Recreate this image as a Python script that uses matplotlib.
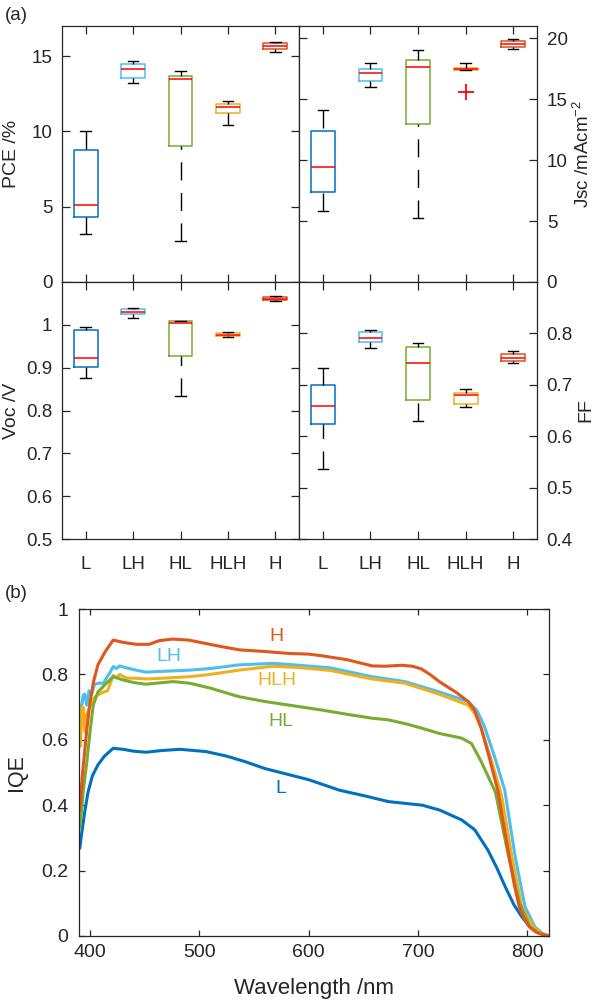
import matplotlib
matplotlib.use("Agg")
import matplotlib.pyplot as plt

plt.rcParams['font.family'] = ['Liberation Sans', 'DejaVu Sans']
plt.rcParams['mathtext.default'] = 'regular'

# ---------------- data ----------------
categories = ["L", "LH", "HL", "HLH", "H"]
box_colors = ["#0072BD", "#4DBEEE", "#77AC30", "#EDB120", "#D95319"]

# five-number summaries: [whisker low, q1, median, q3, whisker high]
pce_stats = [
    [3.2, 4.3, 5.1, 8.75, 10.05],
    [13.2, 13.55, 14.15, 14.5, 14.7],
    [2.75, 9.05, 13.5, 13.65, 14.0],
    [10.45, 11.25, 11.6, 11.85, 12.0],
    [15.3, 15.45, 15.65, 15.85, 15.95],
]
jsc_stats = [
    [5.8, 7.4, 9.4, 12.4, 14.1],
    [16.0, 16.5, 17.15, 17.5, 18.0],
    [5.25, 12.95, 17.65, 18.2, 19.0],
    [17.35, 17.35, 17.45, 17.55, 17.95],
    [19.15, 19.3, 19.55, 19.75, 19.9],
]
jsc_fliers = [[], [], [], [15.55], []]
voc_stats = [
    [0.875, 0.902, 0.923, 0.988, 0.996],
    [1.016, 1.026, 1.031, 1.036, 1.039],
    [0.834, 0.927, 1.005, 1.009, 1.010],
    [0.971, 0.974, 0.977, 0.981, 0.984],
    [1.055, 1.057, 1.060, 1.064, 1.067],
]
ff_stats = [
    [0.537, 0.623, 0.658, 0.700, 0.733],
    [0.772, 0.784, 0.792, 0.802, 0.807],
    [0.629, 0.671, 0.743, 0.773, 0.782],
    [0.657, 0.663, 0.680, 0.684, 0.691],
    [0.742, 0.746, 0.753, 0.759, 0.766],
]

# IQE spectra
L_wl = [390.5, 392, 395, 398, 402, 407, 413, 421, 430, 440, 451, 465, 482, 506, 525, 542, 560, 580,
        600, 628, 652, 673, 690, 704, 720, 740, 752, 764, 772, 780, 788, 795, 802, 808, 814, 820]
L_iqe = [0.27, 0.31, 0.38, 0.44, 0.49, 0.523, 0.55, 0.574, 0.571, 0.565, 0.562, 0.567, 0.571, 0.564,
         0.55, 0.533, 0.512, 0.495, 0.478, 0.446, 0.428, 0.411, 0.405, 0.40, 0.385, 0.355, 0.325,
         0.263, 0.21, 0.15, 0.095, 0.059, 0.03, 0.015, 0.006, 0.0]

LH_wl = [391, 392.5, 393.5, 395, 396.8, 399, 401, 404, 409, 412, 415, 418, 421, 424, 427, 433, 442,
         451, 470, 491, 510, 536, 567, 591, 620, 658, 688, 719, 746, 754, 761, 770, 779.5, 789, 798,
         807, 814, 820]
LH_iqe = [0.70, 0.71, 0.736, 0.74, 0.706, 0.75, 0.736, 0.77, 0.774, 0.772, 0.79, 0.805, 0.824, 0.818,
          0.826, 0.82, 0.813, 0.807, 0.81, 0.813, 0.818, 0.829, 0.834, 0.828, 0.82, 0.793, 0.778,
          0.747, 0.717, 0.69, 0.64, 0.55, 0.446, 0.243, 0.09, 0.028, 0.008, 0.0]

HLH_wl = [390.5, 391, 392, 393.5, 395, 397, 400, 404, 407, 412, 416, 421, 424, 427, 433, 442, 451,
          470, 491, 510, 536, 567, 591, 620, 658, 688, 719, 746, 752, 758, 767, 776.5, 786, 795,
          805.5, 813, 820]
HLH_iqe = [0.70, 0.58, 0.66, 0.70, 0.625, 0.68, 0.706, 0.73, 0.737, 0.746, 0.75, 0.797, 0.79, 0.80,
           0.789, 0.788, 0.786, 0.789, 0.793, 0.80, 0.813, 0.825, 0.821, 0.812, 0.786, 0.773, 0.74,
           0.706, 0.68, 0.635, 0.54, 0.431, 0.243, 0.09, 0.028, 0.008, 0.0]

HL_wl = [390.5, 392, 393.7, 396.8, 400, 402.8, 407, 414, 421, 430, 440, 451, 463, 476, 491, 510, 536,
         560, 582, 612, 635, 658, 673, 690, 704, 719, 740, 749, 758, 764, 771, 783, 793, 802.5, 810,
         816, 820]
HL_iqe = [0.334, 0.38, 0.446, 0.53, 0.63, 0.706, 0.746, 0.77, 0.793, 0.783, 0.775, 0.770, 0.774,
          0.778, 0.773, 0.758, 0.732, 0.717, 0.706, 0.691, 0.678, 0.666, 0.661, 0.648, 0.635, 0.62,
          0.605, 0.589, 0.533, 0.49, 0.44, 0.243, 0.10, 0.028, 0.01, 0.003, 0.0]

H_wl = [390.5, 393, 397, 400, 403, 407, 413.6, 421, 430, 442, 454, 463, 475, 490, 505, 520, 537, 560,
        582, 600, 612, 635, 658, 670, 685, 695, 703, 711, 720, 735, 746, 752, 758, 765, 773.5, 778,
        783.6, 788, 792.7, 797, 802, 808, 814, 820]
H_iqe = [0.385, 0.5, 0.635, 0.72, 0.777, 0.829, 0.869, 0.905, 0.898, 0.892, 0.892, 0.903, 0.908,
         0.905, 0.895, 0.885, 0.875, 0.87, 0.864, 0.862, 0.857, 0.845, 0.826, 0.825, 0.828, 0.825,
         0.817, 0.80, 0.777, 0.745, 0.717, 0.69, 0.635, 0.55, 0.44, 0.35, 0.243, 0.16, 0.09, 0.055,
         0.028, 0.012, 0.004, 0.0]

iqe_series = [("L", L_wl, L_iqe, "#0072BD"),
              ("LH", LH_wl, LH_iqe, "#4DBEEE"),
              ("HLH", HLH_wl, HLH_iqe, "#EDB120"),
              ("HL", HL_wl, HL_iqe, "#77AC30"),
              ("H", H_wl, H_iqe, "#E0561C")]
label_pos = {"H": (570.5, 0.915), "LH": (472, 0.854), "HLH": (571, 0.78),
             "HL": (574.5, 0.655), "L": (574.5, 0.45)}

AXC = "#262626"

# ---------------- figure ----------------
W, H = 596, 1000
fig = plt.figure(figsize=(W / 100, H / 100), dpi=100)


def rect(x0, y0, x1, y1):
    return [x0 / W, 1 - y1 / H, (x1 - x0) / W, (y1 - y0) / H]


ax_pce = fig.add_axes(rect(62, 26, 299, 282))
ax_jsc = fig.add_axes(rect(299, 26, 537, 282))
ax_voc = fig.add_axes(rect(62, 282, 299, 539))
ax_ff = fig.add_axes(rect(299, 282, 537, 539))
ax_iqe = fig.add_axes(rect(79.3, 609, 549, 936))


def style_axes(ax, tick_len, fs):
    for s in ax.spines.values():
        s.set_color(AXC)
        s.set_linewidth(0.9)
    ax.tick_params(direction="in", top=True, right=True, length=tick_len,
                   width=0.9, color=AXC, labelcolor=AXC, labelsize=fs)


def draw_boxes(ax, stats, fliers=None):
    bstats = []
    for i, s in enumerate(stats):
        bstats.append(dict(whislo=s[0], q1=s[1], med=s[2], q3=s[3], whishi=s[4],
                           fliers=(fliers[i] if fliers else [])))
    res = ax.bxp(bstats, positions=range(1, len(stats) + 1), widths=0.5,
                 capwidths=0.22, showfliers=True, manage_ticks=False,
                 medianprops=dict(color="red", linewidth=1.1),
                 whiskerprops=dict(color="black", linewidth=1.0, linestyle=(0, (13, 9))),
                 capprops=dict(color="black", linewidth=1.0),
                 flierprops=dict(marker="+", markeredgecolor="red", markersize=12,
                                 markeredgewidth=1.3, linestyle="none"))
    for i, b in enumerate(res["boxes"]):
        b.set_color(box_colors[i])
        b.set_linewidth(1.1)
    for w in res["whiskers"]:
        y = list(w.get_ydata())
        x = list(w.get_xdata())
        w.set_data(x[::-1], y[::-1])
    return res


for ax in (ax_pce, ax_jsc, ax_voc, ax_ff):
    style_axes(ax, 6, 13.5)
    ax.set_xlim(0.5, 5.5)
    ax.set_xticks(range(1, 6))
    ax.tick_params(axis="y", pad=7)

draw_boxes(ax_pce, pce_stats)
draw_boxes(ax_jsc, jsc_stats, jsc_fliers)
draw_boxes(ax_voc, voc_stats)
draw_boxes(ax_ff, ff_stats)

# PCE
ax_pce.set_ylim(0, 17)
ax_pce.set_yticks([0, 5, 10, 15])
ax_pce.set_xticklabels([])
ax_pce.set_ylabel("PCE /%", fontsize=14, labelpad=8, color=AXC)

# Jsc
ax_jsc.set_ylim(0, 21)
ax_jsc.set_yticks([0, 5, 10, 15, 20])
ax_jsc.set_xticklabels([])
ax_jsc.yaxis.tick_right()
ax_jsc.tick_params(left=True, right=True, labelleft=False, labelright=True)
ax_jsc.yaxis.set_label_position("right")
ax_jsc.set_ylabel("Jsc /mAcm$^{-2}$", fontsize=13.5, labelpad=3.5, color=AXC)

# Voc
ax_voc.set_ylim(0.5, 1.1)
ax_voc.set_yticks([0.5, 0.6, 0.7, 0.8, 0.9, 1.0])
ax_voc.set_yticklabels(["0.5", "0.6", "0.7", "0.8", "0.9", "1"])
ax_voc.set_xticklabels(categories, fontsize=13.5)
ax_voc.tick_params(axis="x", pad=12.5)
ax_voc.set_ylabel("Voc /V", fontsize=14, labelpad=4, color=AXC)

# FF
ax_ff.set_ylim(0.4, 0.9)
ax_ff.set_yticks([0.4, 0.5, 0.6, 0.7, 0.8])
ax_ff.set_xticklabels(categories, fontsize=13.5)
ax_ff.tick_params(axis="x", pad=12.5)
ax_ff.yaxis.tick_right()
ax_ff.tick_params(left=True, right=True, labelleft=False, labelright=True)
ax_ff.yaxis.set_label_position("right")
ax_ff.set_ylabel("FF", fontsize=14, labelpad=3, color=AXC)

# IQE
style_axes(ax_iqe, 4, 14)
for name, wl, val, col in iqe_series:
    ax_iqe.plot(wl, val, color=col, linewidth=2.2, solid_joinstyle="round")
for name, wl, val, col in iqe_series:
    x, y = label_pos[name]
    ax_iqe.text(x, y, name, color=col, fontsize=14, ha="center", va="center")
ax_iqe.set_xlim(390, 820)
ax_iqe.set_ylim(0, 1)
ax_iqe.set_xticks([400, 500, 600, 700, 800])
ax_iqe.set_yticks([0, 0.2, 0.4, 0.6, 0.8, 1.0])
ax_iqe.set_yticklabels(["0", "0.2", "0.4", "0.6", "0.8", "1"])
ax_iqe.tick_params(axis="x", pad=6)
ax_iqe.tick_params(axis="y", pad=8)
ax_iqe.set_xlabel("Wavelength /nm", fontsize=16, color=AXC, labelpad=12)
ax_iqe.set_ylabel("IQE", fontsize=15.5, color=AXC, labelpad=10)

fig.text(5 / W, 1 - 15 / H, "(a)", fontsize=13.5, ha="left", va="center", color=AXC)
fig.text(5 / W, 1 - 593 / H, "(b)", fontsize=13.5, ha="left", va="center", color=AXC)

fig.savefig("out.png", dpi=100)
